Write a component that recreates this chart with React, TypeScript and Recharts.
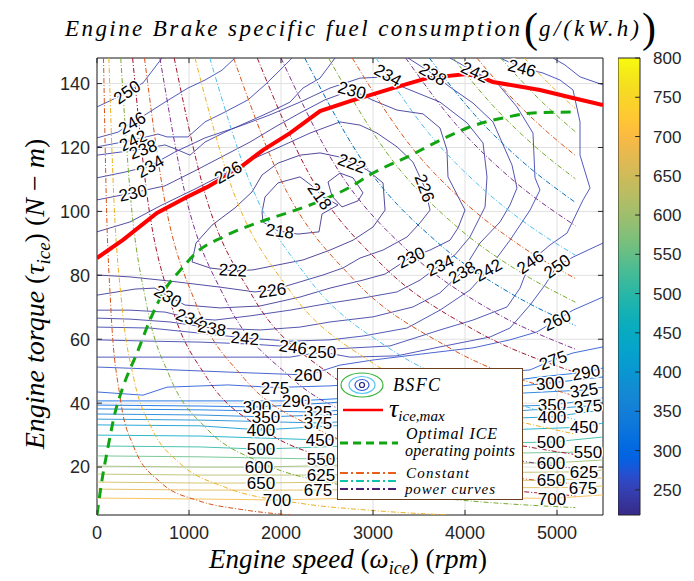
import React from "react";
import { ComposedChart, Line, Scatter, XAxis, YAxis, CartesianGrid, ReferenceArea, ReferenceLine } from "recharts";

const xTicks = [0, 1000, 2000, 3000, 4000, 5000];
const yTicks = [20, 40, 60, 80, 100, 120, 140];
const cbTicks = [250, 300, 350, 400, 450, 500, 550, 600, 650, 700, 750, 800];

// BSFC contours, points are [rpm, N-m]
const c218a = [[1794, 99.8], [1826, 104.5], [1967, 108.9], [2207, 110.8], [2337, 108], [2446, 104.8], [2620, 102], [2446, 99.2], [2413, 93.6], [2185, 92.9], [1967, 93.9], [1804, 96.7], [1794, 99.8]];
const c218b = [[2511, 109.2], [2641, 112], [2783, 110.5], [2891, 105.8], [2837, 103.3], [2663, 101.4], [2554, 104.8], [2511, 109.2]];
const c222 = [[1033, 84.2], [1076, 90.1], [1250, 95.7], [1500, 101.1], [1685, 106.1], [1794, 111.4], [1967, 115.1], [2207, 117.6], [2424, 118.3], [2641, 117], [2935, 113], [3109, 108.9], [3131, 100.4], [3000, 95.1], [2783, 91], [2533, 87.9], [2239, 84.8], [1957, 83.2], [1696, 81.7], [1478, 81.4], [1228, 82.3], [1033, 84.2]];
const c226 = [[0, 93.6], [359, 96.7], [685, 101.7], [1065, 107], [1424, 112.3], [1717, 116.7], [1989, 120.2], [2315, 124.5], [2641, 128], [2859, 127], [3044, 124.5], [3261, 120.2], [3435, 115.4], [3565, 107.3], [3620, 100.4], [3511, 96.4], [3370, 92], [3109, 87.9], [2859, 85.4], [2674, 82.3], [2457, 80.1], [2098, 77], [1902, 75.4], [1717, 74.8], [1337, 76.3], [793, 78.2], [359, 79.5], [0, 80.1]];
const c230 = [[0, 103.6], [391, 105.8], [739, 108], [1065, 112.7], [1391, 117.6], [1663, 121.7], [1935, 126.4], [2207, 130.8], [2478, 134.9], [2772, 138], [2989, 134.9], [3261, 131.7], [3544, 130.5], [3728, 126.1], [3804, 119.2], [3815, 110.8], [4000, 100.4], [3924, 94.8], [3837, 91], [3620, 87.9], [3413, 85.7], [3131, 80.4], [2891, 78.5], [2533, 76], [2207, 73.2], [1772, 70.4], [1337, 69.8], [957, 70.7], [772, 73.5], [630, 76], [413, 75.7], [0, 73.8]];
const c234 = [[0, 110.5], [304, 112.3], [576, 114.2], [848, 118.6], [1174, 123], [1554, 126.7], [1880, 130.2], [2207, 134.2], [2533, 138.6], [2859, 141.7], [3163, 142.1], [3326, 138.9], [3728, 134.2], [4022, 127.7], [4196, 121.4], [4239, 110.8], [4218, 101.4], [4054, 92], [3891, 86.4], [3728, 83.2], [3511, 78.5], [3261, 74.8], [2891, 72.9], [2533, 71.3], [2098, 69.1], [1663, 67.3], [1283, 66], [1011, 66.6], [739, 68.5], [359, 69.1], [0, 69.1]];
const c238a = [[0, 117.6], [500, 119.5], [739, 120.8], [880, 119.2], [1011, 117.6], [1174, 121.7], [1391, 124.8], [1641, 128], [1880, 131.1], [2098, 134.2], [2239, 138.6], [2424, 141.7], [2587, 148]];
const c238b = [[3381, 148], [3652, 143], [3837, 138.9], [4087, 133.9], [4304, 128], [4511, 114.5], [4565, 107.3], [4489, 102], [4381, 96.7], [4163, 90.1], [3967, 81], [3728, 74.5], [3435, 70.1], [3000, 67], [2533, 65.4], [2207, 63.8], [1772, 62.9], [1250, 63.5], [793, 65.4], [359, 66.3], [0, 66.6]];
const c242a = [[0, 120.2], [391, 122.3], [663, 124.2], [761, 123.3], [989, 123.3], [1174, 128], [1391, 131.1], [1641, 134.9], [1826, 139.6], [1989, 144.2], [2120, 148]];
const c242b = [[3837, 148], [4109, 143.6], [4348, 140.2], [4565, 132.7], [4739, 124.5], [4761, 110.5], [4815, 106.7], [4707, 100.4], [4489, 91], [4250, 81.7], [4054, 75.4], [3728, 69.1], [3370, 63.5], [2891, 61], [2533, 59.8], [2098, 59.4], [1609, 60.4], [1120, 61.9], [576, 63.5], [0, 63.8]];
const c246a = [[0, 123], [228, 124.8], [380, 127.7], [522, 130.2], [739, 134.2], [989, 138.6], [1174, 141.1], [1359, 144.2], [1500, 148]];
const c246b = [[4381, 148], [4620, 144.9], [4848, 143.3], [5033, 141.1], [5174, 138], [5250, 128], [5250, 117.6], [5359, 107.3], [5283, 103.6], [5109, 93.2], [4924, 89.5], [4707, 84.2], [4598, 76], [4457, 70.1], [4087, 66], [3728, 62.9], [3185, 57.9], [2533, 56.9], [2131, 57.6], [1663, 58.5], [1120, 59.1], [576, 59.4], [0, 59.8]];
const c250a = [[0, 132.7], [163, 134.9], [326, 137.4], [500, 140.2], [707, 148]];
const c250b = [[4957, 148], [5087, 145.8], [5250, 142.1], [5500, 139.6]];
const c250c = [[5500, 90.1], [5174, 85.7], [5000, 82.9], [4870, 77], [4707, 70.7], [4489, 63.5], [4272, 60.7], [3728, 57.6], [3261, 54.8], [2750, 54.4], [2446, 56], [2098, 54.4], [1120, 54.4], [0, 54.4]];
const c260 = [[0, 51.3], [576, 50.7], [1446, 49.7], [2294, 48.8], [2641, 51.9], [3000, 53.5], [3620, 55.7], [4087, 57.3], [4489, 59.8], [4783, 62.3], [5000, 66], [5174, 69.1], [5500, 73.2]];
const c275 = [[0, 43.5], [500, 42.5], [761, 45], [1424, 45.7], [1935, 44.9], [2533, 45.4], [3294, 46.9], [4239, 49.4], [4707, 50.4], [4957, 53.5], [5174, 55.7], [5500, 57.6]];
const c290 = [[0, 40.7], [576, 40.7], [1663, 40.7], [2163, 40.7], [2750, 41.6], [3511, 43.5], [4163, 45.7], [4815, 48.2], [5315, 49.7], [5500, 51]];
const c300 = [[0, 39.4], [1120, 39.1], [1739, 38.8], [2533, 40.1], [3294, 42], [4163, 44.1], [4924, 46.3], [5500, 48.2]];
const c325 = [[0, 38.2], [1120, 37.9], [2402, 37.2], [3294, 39.4], [4163, 42.5], [5294, 44.1], [5500, 45]];
const c350 = [[0, 36.6], [1120, 36.3], [1837, 35.7], [2750, 36.6], [3837, 38.5], [4946, 39.4], [5500, 41.6]];
const c375 = [[0, 35], [1120, 34.7], [2402, 33.8], [3511, 35.4], [4381, 37.2], [5337, 39.1], [5500, 40.4]];
const c400 = [[0, 33.2], [1120, 32.9], [1783, 31.6], [2750, 33.2], [3837, 34.7], [4946, 35.7], [5500, 37.9]];
const c450 = [[0, 30], [1120, 29.7], [2424, 28.5], [3837, 31], [5294, 32.5], [5500, 33.8]];
const c500 = [[0, 26.6], [1120, 26.3], [1783, 25.6], [3294, 27.2], [4935, 27.8], [5500, 29.4]];
const c550 = [[0, 23.5], [1120, 23.2], [2435, 22.5], [3837, 24.1], [5337, 24.7], [5500, 26]];
const c600 = [[0, 20.3], [1120, 20], [1761, 20], [3294, 21], [4935, 21.3], [5500, 22.2]];
const c625 = [[0, 17.8], [1120, 17.5], [2435, 17.5], [3837, 18.2], [5294, 18.5], [5500, 19.1]];
const c650 = [[0, 15.3], [1120, 15], [1783, 15], [3294, 15.6], [4935, 15.9], [5500, 16.6]];
const c675 = [[0, 13.1], [1120, 12.8], [2402, 12.8], [3837, 13.5], [5283, 13.6], [5500, 14.1]];
const c700 = [[0, 10.3], [1120, 10], [1957, 9.7], [3294, 10.6], [4946, 10.2], [5500, 11.3]];

const contours = [
  { v: 218, pts: c218a }, { v: 218, pts: c218b }, { v: 222, pts: c222 }, { v: 226, pts: c226 },
  { v: 230, pts: c230 }, { v: 234, pts: c234 }, { v: 238, pts: c238a }, { v: 238, pts: c238b },
  { v: 242, pts: c242a }, { v: 242, pts: c242b }, { v: 246, pts: c246a }, { v: 246, pts: c246b },
  { v: 250, pts: c250a }, { v: 250, pts: c250b }, { v: 250, pts: c250c }, { v: 260, pts: c260 },
  { v: 275, pts: c275 }, { v: 290, pts: c290 }, { v: 300, pts: c300 }, { v: 325, pts: c325 },
  { v: 350, pts: c350 }, { v: 375, pts: c375 }, { v: 400, pts: c400 }, { v: 450, pts: c450 },
  { v: 500, pts: c500 }, { v: 550, pts: c550 }, { v: 600, pts: c600 }, { v: 625, pts: c625 },
  { v: 650, pts: c650 }, { v: 675, pts: c675 }, { v: 700, pts: c700 },
];

// contour labels: value, rpm, torque, rotation (deg)
const labelsUpper = [
  { v: 250, x: 326, y: 137.4, a: -35 }, { v: 246, x: 380, y: 127.7, a: -30 }, { v: 242, x: 391, y: 122.3, a: -25 },
  { v: 238, x: 500, y: 119.5, a: -20 }, { v: 234, x: 576, y: 114.2, a: -30 }, { v: 230, x: 391, y: 105.8, a: -12 },
  { v: 226, x: 1424, y: 112.3, a: -30 }, { v: 230, x: 2772, y: 138, a: 15 }, { v: 234, x: 3163, y: 142.7, a: 30 },
  { v: 238, x: 3652, y: 143, a: 30 }, { v: 242, x: 4109, y: 143.6, a: 25 }, { v: 246, x: 4620, y: 144.9, a: 15 },
];
const labelsMiddle = [
  { v: 222, x: 2772, y: 115.1, a: 20 }, { v: 218, x: 2424, y: 104.8, a: 55 }, { v: 218, x: 1989, y: 93.9, a: 8 },
  { v: 222, x: 1478, y: 81.7, a: 3 }, { v: 226, x: 3565, y: 107.3, a: 70 }, { v: 226, x: 1902, y: 75.4, a: -8 },
  { v: 230, x: 3413, y: 85.7, a: -25 }, { v: 234, x: 3728, y: 83.2, a: -25 }, { v: 238, x: 3967, y: 81, a: -30 },
  { v: 242, x: 4250, y: 81.7, a: -30 }, { v: 246, x: 4707, y: 84.2, a: -35 }, { v: 250, x: 5000, y: 82.9, a: -35 },
  { v: 260, x: 5000, y: 66, a: -25 }, { v: 275, x: 4957, y: 53.5, a: -20 }, { v: 290, x: 5315, y: 49.7, a: -10 },
  { v: 230, x: 772, y: 73.5, a: 30 }, { v: 234, x: 1011, y: 66.6, a: 20 }, { v: 238, x: 1250, y: 63.5, a: 10 },
  { v: 242, x: 1609, y: 60.4, a: 5 }, { v: 246, x: 2131, y: 57.6, a: 8 }, { v: 250, x: 2446, y: 56, a: 0 },
  { v: 260, x: 2294, y: 48.8, a: 0 }, { v: 275, x: 1935, y: 44.7, a: 0 },
];
const labelsLower = [
  { v: 290, x: 2163, y: 40.7, a: 0 }, { v: 300, x: 1739, y: 38.8, a: 0 }, { v: 325, x: 2402, y: 37.2, a: 0 },
  { v: 350, x: 1837, y: 35.7, a: 0 }, { v: 375, x: 2402, y: 33.8, a: 0 }, { v: 400, x: 1783, y: 31.6, a: 0 },
  { v: 450, x: 2424, y: 28.5, a: 0 }, { v: 500, x: 1783, y: 25.6, a: 0 }, { v: 550, x: 2435, y: 22.5, a: 0 },
  { v: 600, x: 1761, y: 20, a: 0 }, { v: 625, x: 2435, y: 17.5, a: 0 }, { v: 650, x: 1783, y: 15, a: 0 },
  { v: 675, x: 2402, y: 12.8, a: 0 }, { v: 700, x: 1957, y: 9.7, a: 0 },
  { v: 300, x: 4924, y: 46.3, a: -5 }, { v: 325, x: 5294, y: 44.1, a: -8 }, { v: 350, x: 4946, y: 39.4, a: 0 },
  { v: 375, x: 5337, y: 39.1, a: -5 }, { v: 400, x: 4946, y: 35.7, a: 0 }, { v: 450, x: 5294, y: 32.5, a: 0 },
  { v: 500, x: 4935, y: 27.8, a: 0 }, { v: 550, x: 5337, y: 24.7, a: 0 }, { v: 600, x: 4935, y: 21.3, a: 0 },
  { v: 625, x: 5294, y: 18.5, a: 0 }, { v: 650, x: 4935, y: 15.9, a: 0 }, { v: 675, x: 5283, y: 13.4, a: 0 },
  { v: 700, x: 4946, y: 10.2, a: 0 },
];

// constant power curves (kW), [rpm, N-m]
const p1 = [[71, 148], [100, 105], [150, 70], [250, 42], [400, 26.3], [700, 15], [1100, 9.5], [1600, 6.6], [2100, 5]];
const p2 = [[129, 148], [180, 106], [270, 70.7], [400, 47.7], [600, 31.8], [900, 21.2], [1400, 13.6], [2200, 8.7], [3000, 6.4], [3820, 5]];
const p4 = [[258, 148], [360, 106], [540, 70.7], [800, 47.7], [1200, 31.8], [1800, 21.2], [2700, 14.1], [3900, 9.8], [5200, 7.3]];
const p6 = [[387, 148], [540, 106], [800, 71.6], [1200, 47.7], [1800, 31.8], [2700, 21.2], [3900, 14.7], [5200, 11]];
const p8 = [[516, 148], [720, 106], [1080, 70.7], [1600, 47.7], [2400, 31.8], [3600, 21.2], [5200, 14.7]];
const p11 = [[684, 148], [950, 106.5], [1400, 72.3], [2100, 48.2], [3100, 32.7], [4200, 24.1], [5200, 19.5]];
const p13 = [[839, 148], [1150, 108], [1700, 73], [2500, 49.7], [3500, 35.5], [5200, 23.9]];
const p16 = [[1065, 148], [1450, 108.7], [2100, 75], [3000, 52.5], [4000, 39.4], [5200, 30.3]];
const p19 = [[1226, 148], [1650, 110], [2300, 78.9], [3200, 56.7], [4200, 43.2], [5200, 34.9]];
const p23 = [[1484, 148], [2000, 109.8], [2800, 78.4], [3800, 57.8], [5200, 42.2]];
const p27 = [[1742, 148], [2300, 112], [3100, 83.2], [4100, 62.9], [5200, 49.6]];
const p31 = [[2000, 148], [2600, 113.9], [3400, 87.1], [4300, 68.8], [5200, 56.9]];
const p35 = [[2258, 148], [2900, 115.2], [3700, 90.3], [4500, 74.3], [5200, 64.3]];
const p39 = [[2516, 148], [3200, 116.4], [3900, 95.5], [4600, 81], [5200, 71.6]];
const p43 = [[2774, 148], [3400, 120.8], [4000, 102.7], [4600, 89.3], [5200, 79]];
const p47 = [[3032, 148], [3600, 124.7], [4200, 106.9], [4700, 95.5], [5200, 86.3]];
const p52 = [[3355, 148], [3900, 127.3], [4500, 110.3], [5200, 95.5]];
const p56 = [[3613, 148], [4100, 130.4], [4600, 116.2], [5200, 102.8]];
const p60 = [[3871, 148], [4300, 133.2], [4750, 120.6], [5200, 110.2]];
const p64 = [[4129, 148], [4500, 135.8], [4850, 126], [5200, 117.5]];
const p68 = [[4387, 148], [4800, 135.3], [5200, 124.9]];
const p72 = [[4645, 148], [4900, 140.3], [5200, 132.2]];

const powerCurves = [
  { pts: p1, c: "#D95319" }, { pts: p2, c: "#EDB120" }, { pts: p4, c: "#77AC30" }, { pts: p6, c: "#A2142F" },
  { pts: p8, c: "#D95319" }, { pts: p11, c: "#7E2F8E" }, { pts: p13, c: "#A2142F" }, { pts: p16, c: "#EDB120" },
  { pts: p19, c: "#4DBEEE" }, { pts: p23, c: "#D95319" }, { pts: p27, c: "#A2142F" }, { pts: p31, c: "#7E2F8E" },
  { pts: p35, c: "#0072BD" }, { pts: p39, c: "#77AC30" }, { pts: p43, c: "#D95319" }, { pts: p47, c: "#4DBEEE" },
  { pts: p52, c: "#7E2F8E" }, { pts: p56, c: "#0072BD" }, { pts: p60, c: "#77AC30" }, { pts: p64, c: "#D95319" },
  { pts: p68, c: "#77AC30" }, { pts: p72, c: "#EDB120" },
];

// max torque curve and optimal operating line
const tauMax = [[0, 85.4], [283, 91.1], [652, 99.5], [978, 104.5], [1196, 107.6], [1522, 113], [1804, 119.2], [2098, 124.5], [2424, 131.4], [2750, 134.5], [2967, 136.4], [3217, 138.6], [3587, 141.7], [4022, 143], [4196, 141.7], [4304, 140.5], [4815, 138], [5174, 135.5], [5500, 133.3]];
const optimal = [[0, 5], [54, 15.9], [120, 26.3], [196, 37], [283, 45.1], [435, 55.7], [576, 66], [717, 74.5], [935, 82.6], [1087, 87.3], [1370, 92], [1739, 96.4], [2098, 99.8], [2457, 103.6], [2750, 107.6], [3000, 112], [3370, 117], [3804, 123.3], [4022, 126.1], [4457, 129.5], [4739, 130.8], [5228, 131.1]];

const PARULA = ["#352A87", "#363093", "#3637A0", "#353DAD", "#3243BA", "#2C4AC7", "#2053D4", "#0F5CDD", "#0363E1", "#0268E1", "#046DE0", "#0871DE", "#0D75DC", "#1079DA", "#127DD8", "#1481D6", "#1485D4", "#1389D3", "#108ED2", "#0C93D2", "#0998D1", "#079CCF", "#06A0CD", "#06A4CA", "#06A7C6", "#07A9C2", "#0AACBE", "#0FAEB9", "#15B1B4", "#1DB3AF", "#25B5A9", "#2EB7A4", "#38B99E", "#42BB98", "#4DBC92", "#59BD8C", "#65BE86", "#71BF80", "#7CBF7B", "#87BF77", "#92BF73", "#9BBE6E", "#A5BE6B", "#AEBD67", "#B7BD64", "#C0BC60", "#C8BB5C", "#D1BB59", "#D9BA56", "#E1B952", "#E9B94E", "#F1B94A", "#F8BA44", "#FDBE3D", "#FFC337", "#FEC832", "#FCCE2E", "#FAD32A", "#F7D826", "#F5DE21", "#F5E41D", "#F5EB18", "#F6F313", "#F9FA0E"];
const CMIN = 218;
const CMAX = 800;
const bsfcColor = (v: number) => PARULA[Math.round(((v - CMIN) / (CMAX - CMIN)) * 63)];

const toPts = (arr: number[][]) => arr.map(([x, y]) => ({ x, y }));

const SANS = "'Liberation Sans', Arial, sans-serif";
const SERIF = "'Liberation Serif', 'Times New Roman', serif";
const AX = "#262626";

function ContourLabel(props: any) {
  const { cx, cy, payload } = props;
  if (cx == null || cy == null) return null;
  return (
    <text
      x={cx}
      y={cy}
      dy="0.36em"
      textAnchor="middle"
      transform={`rotate(${payload.a} ${cx} ${cy})`}
      fontSize={17}
      fontFamily={SANS}
      fill="#000"
      stroke="#fff"
      strokeWidth={3}
      strokeLinejoin="round"
      paintOrder="stroke"
    >
      {payload.v}
    </text>
  );
}

function Overlay() {
  const it = { fontFamily: SERIF, fontStyle: "italic" as const };
  return (
    <svg width={694} height={581} style={{ position: "absolute", left: 0, top: 0, pointerEvents: "none" }}>
      {/* title */}
      <text x={65} y={36} {...it} fontSize={23} textLength={455} lengthAdjust="spacing" fill="#000">
        Engine Brake specific fuel consumption
      </text>
      <text x={524} y={42} fontFamily={SERIF} fontSize={42} fill="#000">(</text>
      <text x={539} y={36} {...it} fontSize={23} textLength={100} lengthAdjust="spacing" fill="#000">g/(kW.h)</text>
      <text x={642} y={42} fontFamily={SERIF} fontSize={42} fill="#000">)</text>

      {/* x label */}
      <text x={348} y={568} {...it} fontSize={27} textAnchor="middle" fill="#000">
        Engine speed <tspan fontStyle="normal">(</tspan>ω<tspan fontSize={18} dy={6}>ice</tspan><tspan dy={-6} fontStyle="normal">)</tspan> <tspan fontStyle="normal">(</tspan>rpm<tspan fontStyle="normal">)</tspan>
      </text>

      {/* y label */}
      <text x={0} y={0} transform="translate(44 294) rotate(-90)" {...it} fontSize={28} textAnchor="middle" fill="#000">
        Engine torque <tspan fontStyle="normal">(</tspan>τ<tspan fontSize={19} dy={6}>ice</tspan><tspan dy={-6} fontStyle="normal">)</tspan> <tspan fontStyle="normal">(</tspan>N <tspan fontStyle="normal">−</tspan> m<tspan fontStyle="normal">)</tspan>
      </text>

      {/* legend */}
      <rect x={337.5} y={368.5} width={185} height={131} fill="#fff" stroke="#6b3e1e" strokeWidth={1} />
      <ellipse cx={362} cy={385} rx={21} ry={12} fill="none" stroke="#3cb43c" strokeWidth={1.2} />
      <ellipse cx={362} cy={385} rx={13} ry={8.5} fill="none" stroke="#4fc3f0" strokeWidth={1.2} />
      <ellipse cx={362} cy={385} rx={7} ry={5.5} fill="none" stroke="#2f5ae0" strokeWidth={1.2} />
      <ellipse cx={362} cy={385} rx={2.5} ry={2.5} fill="none" stroke="#22227a" strokeWidth={1.2} />
      <text x={393} y={391} {...it} fontSize={18} textLength={47} lengthAdjust="spacing" fill="#000">BSFC</text>

      <line x1={343} y1={410} x2={383} y2={410} stroke="#ff0000" strokeWidth={2.5} />
      <text x={389} y={417} {...it} fontSize={26} fill="#000">
        τ<tspan fontSize={15} dy={4}>ice,max</tspan>
      </text>

      <line x1={340} y1={443} x2={398} y2={443} stroke="#11a511" strokeWidth={3} strokeDasharray="8 5" />
      <text x={406} y={439} {...it} fontSize={16} textLength={91} lengthAdjust="spacing" fill="#000">Optimal ICE</text>
      <text x={405} y={456} {...it} fontSize={16} textLength={110} lengthAdjust="spacing" fill="#000">operating points</text>

      <line x1={340} y1={473} x2={398} y2={473} stroke="#e8601c" strokeWidth={2} strokeDasharray="8 3 2 3" />
      <line x1={340} y1={481} x2={398} y2={481} stroke="#12c4b0" strokeWidth={2} strokeDasharray="8 3 2 3" />
      <text x={406} y={478} {...it} fontSize={15} textLength={63} lengthAdjust="spacing" fill="#000">Constant</text>
      <line x1={340} y1={489} x2={398} y2={489} stroke="#4a1d6e" strokeWidth={2} strokeDasharray="8 3 2 3" />
      <text x={405} y={494} {...it} fontSize={15} textLength={90} lengthAdjust="spacing" fill="#000">power curves</text>
    </svg>
  );
}

function ColorBar() {
  return (
    <div style={{ position: "absolute", left: 618, top: 0 }}>
      <ComposedChart width={76} height={581} margin={{ top: 58, right: 0, bottom: 66, left: 0 }} data={[{ x: 0, y: CMIN }, { x: 1, y: CMAX }]}>
        <defs>
          <linearGradient id="parulaGrad" x1="0" y1="1" x2="0" y2="0">
            {PARULA.map((c, i) => (
              <stop key={i} offset={i / 63} stopColor={c} />
            ))}
          </linearGradient>
        </defs>
        <XAxis type="number" dataKey="x" domain={[0, 1]} hide />
        <YAxis
          type="number"
          dataKey="y"
          orientation="right"
          domain={[CMIN, CMAX]}
          ticks={cbTicks}
          interval={0}
          width={54}
          tickSize={0}
          tickMargin={13}
          axisLine={false}
          tickLine={false}
          tick={{ fontSize: 17, fill: AX, fontFamily: SANS }}
        />
        <ReferenceArea x1={0} x2={1} y1={CMIN} y2={CMAX} fill="url(#parulaGrad)" fillOpacity={1} stroke={AX} strokeWidth={1} />
        {cbTicks.map((t) => (
          <ReferenceLine key={t} segment={[{ x: 0.78, y: t }, { x: 1, y: t }]} stroke={AX} strokeWidth={1} />
        ))}
      </ComposedChart>
    </div>
  );
}

export default function App() {
  const allLabels = [...labelsUpper, ...labelsMiddle, ...labelsLower];
  return (
    <div style={{ position: "absolute", left: 0, top: 0, width: 694, height: 581, background: "#fff" }}>
      <ComposedChart width={694} height={581} margin={{ top: 58, right: 91, bottom: 0, left: 0 }}>
        <CartesianGrid stroke="#e0e0e0" strokeWidth={1} />
        <XAxis
          type="number"
          dataKey="x"
          domain={[0, 5500]}
          ticks={xTicks}
          interval={0}
          allowDataOverflow
          height={66}
          tickSize={0}
          tickMargin={11}
          axisLine={false}
          tickLine={false}
          tick={{ fontSize: 18, fill: AX, fontFamily: SANS }}
        />
        <YAxis
          type="number"
          dataKey="y"
          domain={[5, 148]}
          ticks={yTicks}
          interval={0}
          allowDataOverflow
          width={97}
          tickSize={0}
          tickMargin={7}
          axisLine={false}
          tickLine={false}
          tick={{ fontSize: 18, fill: AX, fontFamily: SANS }}
        />
        {contours.map((c, i) => (
          <Line
            key={"c" + i}
            data={toPts(c.pts)}
            dataKey="y"
            type="linear"
            stroke={bsfcColor(c.v)}
            strokeWidth={1}
            strokeOpacity={0.85}
            dot={false}
            activeDot={false}
            isAnimationActive={false}
          />
        ))}
        <Scatter data={allLabels} dataKey="y" shape={ContourLabel} isAnimationActive={false} />
        {powerCurves.map((p, i) => (
          <Line
            key={"p" + i}
            data={toPts(p.pts)}
            dataKey="y"
            type="monotone"
            stroke={p.c}
            strokeWidth={1}
            strokeDasharray="5 2 1 2"
            dot={false}
            activeDot={false}
            isAnimationActive={false}
          />
        ))}
        <Line data={toPts(tauMax)} dataKey="y" type="linear" stroke="#ff0000" strokeWidth={4} dot={false} activeDot={false} isAnimationActive={false} />
        <Line data={toPts(optimal)} dataKey="y" type="monotone" stroke="#11a511" strokeWidth={3} strokeDasharray="10 7" dot={false} activeDot={false} isAnimationActive={false} />
        <ReferenceArea x1={0} x2={5500} y1={5} y2={148} fill="none" fillOpacity={0} stroke={AX} strokeWidth={1} />
        {xTicks.map((t) => (
          <ReferenceLine key={"xb" + t} segment={[{ x: t, y: 5 }, { x: t, y: 6.6 }]} stroke={AX} />
        ))}
        {xTicks.map((t) => (
          <ReferenceLine key={"xt" + t} segment={[{ x: t, y: 148 }, { x: t, y: 146.4 }]} stroke={AX} />
        ))}
        {yTicks.map((t) => (
          <ReferenceLine key={"yl" + t} segment={[{ x: 0, y: t }, { x: 55, y: t }]} stroke={AX} />
        ))}
        {yTicks.map((t) => (
          <ReferenceLine key={"yr" + t} segment={[{ x: 5500, y: t }, { x: 5445, y: t }]} stroke={AX} />
        ))}
      </ComposedChart>
      <ColorBar />
      <Overlay />
    </div>
  );
}
